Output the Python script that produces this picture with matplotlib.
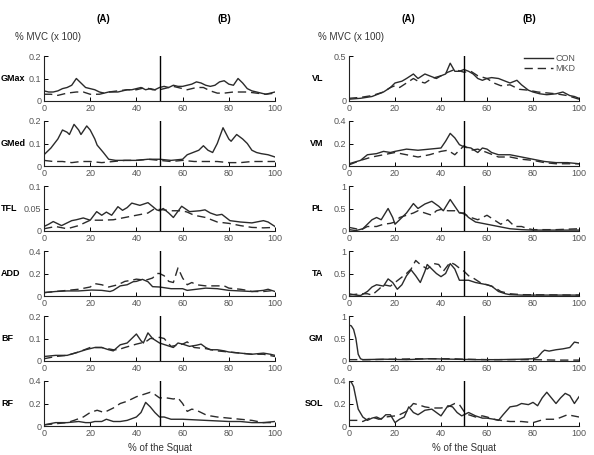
import numpy as np
import matplotlib
matplotlib.use('Agg')
import matplotlib.pyplot as plt

plt.rcParams['font.family'] = ['Liberation Sans', 'DejaVu Sans']

# (percent of squat, %MVC/100)
GMAX_CON = [(0, .045), (2, .04), (4, .04), (6, .045), (8, .055), (10, .06), (12, .07), (14, .1), (16, .08),
            (18, .06), (20, .055), (22, .05), (24, .04), (26, .035), (28, .04), (30, .04), (32, .04), (34, .045),
            (36, .05), (38, .05), (40, .055), (42, .06), (44, .05), (46, .055), (48, .05), (50, .06), (52, .065),
            (54, .06), (56, .07), (58, .065), (60, .065), (62, .07), (64, .075), (66, .085), (68, .08), (70, .07),
            (72, .065), (74, .07), (76, .085), (78, .09), (80, .075), (82, .07), (84, .1), (86, .08), (88, .055),
            (90, .045), (92, .04), (94, .035), (96, .03), (98, .035), (100, .04)]
GMAX_MKD = [(0, .03), (3, .03), (6, .025), (10, .035), (14, .04), (17, .04), (20, .03), (24, .03), (28, .04),
            (32, .045), (36, .05), (40, .05), (44, .06), (47, .05), (50, .05), (54, .06), (56, .065), (60, .055),
            (62, .05), (66, .06), (69, .06), (72, .045), (75, .035), (78, .035), (82, .04), (88, .04), (92, .035),
            (96, .03), (100, .035)]

GMED_CON = [(0, .05), (3, .08), (6, .12), (8, .16), (10, .15), (11, .14), (13, .185), (15, .16), (16, .14),
            (18.5, .178), (20, .16), (22, .12), (23, .093), (25.7, .06), (28, .03), (31, .025), (35, .025),
            (40, .025), (45, .03), (50, .03), (55, .025), (60, .03), (62, .05), (64.5, .06), (67, .07), (69, .09),
            (71, .07), (73, .06), (75, .1), (77.5, .17), (80, .12), (81, .11), (83.4, .14), (86, .12), (88, .1),
            (90, .07), (92, .06), (94, .055), (97, .05), (100, .04)]
GMED_MKD = [(0, .025), (4, .02), (8, .02), (12, .015), (16, .02), (20, .02), (25, .015), (30, .02), (35, .025),
            (40, .025), (45, .03), (50, .025), (55, .02), (60, .025), (65, .02), (70, .02), (75, .02), (80, .015),
            (85, .015), (90, .02), (95, .02), (100, .02)]

TFL_CON = [(0, .01), (2, .015), (4, .021), (7.6, .012), (12, .023), (14, .025), (17, .029), (20, .024),
           (22.8, .043), (25, .035), (27, .042), (29.3, .035), (32, .054), (34, .046), (36, .052), (38, .062),
           (41.5, .057), (45, .063), (48.8, .047), (50, .045), (51.6, .05), (54, .04), (56, .03), (59.6, .055),
           (63, .043), (67.5, .045), (69.7, .047), (72, .04), (74.8, .035), (77, .037), (80.5, .023), (85, .02),
           (90, .018), (95, .023), (97, .02), (100, .01)]
TFL_MKD = [(0, .005), (5, .01), (10, .005), (15, .012), (20, .024), (25, .024), (30, .025), (35, .03),
           (40, .035), (45, .04), (48, .05), (50, .048), (55, .045), (60, .045), (62, .042), (65, .035),
           (70, .03), (75, .02), (80, .017), (85, .012), (90, .008), (95, .007), (100, .008)]

ADD_CON = [(0, .03), (5, .04), (10, .045), (15, .045), (20.6, .053), (25, .05), (28.6, .04), (30, .05),
           (33, .09), (36, .1), (38.6, .127), (40, .13), (42.6, .148), (45, .127), (47, .083), (50, .08),
           (55, .065), (60, .065), (62, .05), (66, .06), (70, .07), (75, .065), (80, .05), (85, .045),
           (90, .04), (95, .05), (97, .06), (100, .04)]
ADD_MKD = [(0, .03), (5, .04), (10, .05), (15, .06), (20, .08), (22, .11), (25, .1), (28, .08), (32, .1),
           (35, .13), (38, .14), (40, .15), (44, .14), (47, .16), (49, .2), (50, .2), (52, .18), (54, .13),
           (56, .12), (58, .25), (60, .16), (62, .1), (64, .12), (66, .1), (70, .09), (75, .09), (78, .09),
           (80, .07), (85, .06), (88, .05), (90, .04), (95, .04), (100, .05)]

BF_CON = [(0, .02), (5, .025), (10, .025), (15, .04), (18, .05), (22, .06), (25, .06), (28, .05), (30, .045),
          (33, .072), (36, .08), (40, .12), (42, .09), (43, .08), (45, .125), (47, .1), (50, .08), (53, .07),
          (56, .06), (58, .08), (60, .075), (63, .065), (66, .07), (68, .075), (70, .06), (72, .05), (75, .05),
          (78, .045), (80, .04), (85, .035), (90, .03), (95, .035), (98, .03), (100, .025)]
BF_MKD = [(0, .01), (5, .02), (10, .025), (15, .04), (20, .06), (25, .06), (30, .05), (32, .05), (35, .06),
          (40, .075), (44, .085), (46, .1), (48, .1), (50, .105), (52, .1), (55, .065), (60, .075), (62, .085),
          (65, .06), (70, .055), (75, .045), (80, .04), (85, .035), (90, .03), (95, .03), (100, .02)]

RF_CON = [(0, .01), (5, .03), (10, .03), (15, .04), (18, .03), (20, .03), (22, .04), (25, .04), (27, .06),
          (30, .04), (33, .04), (36, .05), (40, .08), (42, .12), (44, .21), (46, .17), (48, .12), (50, .08),
          (52, .08), (55, .06), (60, .06), (65, .055), (70, .05), (75, .045), (80, .04), (85, .04), (90, .03),
          (95, .03), (100, .04)]
RF_MKD = [(0, .01), (5, .02), (10, .03), (13, .05), (17, .08), (20, .12), (23, .14), (26, .12), (30, .16),
          (33, .2), (36, .22), (40, .26), (43, .28), (46, .3), (48, .28), (50, .25), (53, .25), (56, .24),
          (58, .25), (60, .2), (62, .13), (64, .15), (66, .14), (70, .1), (72, .09), (75, .08), (80, .07),
          (85, .06), (90, .05), (95, .03), (100, .03)]

VL_CON = [(0, .02), (5, .03), (10, .05), (15, .1), (18, .15), (20, .2), (23, .22), (25, .25), (28, .3),
          (30, .25), (33, .3), (35, .28), (38, .25), (40, .28), (42, .3), (44, .42), (46, .33), (48, .33),
          (50, .35), (52, .33), (54, .3), (56, .25), (58, .23), (60, .25), (62, .26), (65, .25), (68, .22),
          (70, .2), (73, .23), (75, .18), (78, .12), (80, .1), (83, .08), (86, .07), (90, .08), (93, .1),
          (96, .06), (98, .05), (100, .03)]
VL_MKD = [(0, .03), (5, .04), (10, .06), (15, .1), (18, .15), (20, .17), (22, .15), (25, .2), (28, .25),
          (30, .22), (33, .2), (36, .25), (40, .28), (43, .32), (46, .35), (50, .32), (53, .33), (56, .28),
          (60, .25), (63, .2), (66, .17), (70, .18), (74, .13), (78, .12), (82, .1), (86, .09), (90, .08),
          (95, .06), (100, .02)]

VM_CON = [(0, .02), (5, .05), (8, .1), (12, .11), (15, .13), (18, .12), (20, .13), (25, .15), (30, .14),
          (35, .15), (40, .16), (42, .22), (44, .29), (46, .25), (48, .19), (50, .17), (53, .16), (56, .12),
          (58, .16), (60, .15), (62, .12), (65, .1), (70, .1), (75, .08), (80, .06), (85, .04), (90, .03),
          (95, .03), (100, .02)]
VM_MKD = [(0, .01), (5, .05), (10, .08), (15, .1), (20, .12), (25, .1), (30, .08), (35, .1), (40, .13),
          (43, .14), (46, .1), (50, .18), (53, .14), (56, .15), (60, .12), (65, .08), (70, .08), (75, .06),
          (80, .05), (85, .03), (90, .02), (95, .02), (100, .02)]

PL_CON = [(0, .03), (3, .01), (6, .05), (10, .25), (12, .3), (14, .25), (17, .5), (19, .3), (20, .15),
          (22, .25), (25, .4), (28, .61), (30, .5), (33, .6), (36, .66), (39, .55), (41, .45), (44, .7),
          (46, .55), (48, .4), (50, .4), (52, .3), (55, .2), (60, .15), (65, .1), (70, .05), (75, .03),
          (80, .02), (90, .02), (100, .02)]
PL_MKD = [(0, .08), (3, .05), (5, .02), (8, .1), (10, .1), (12, .1), (15, .15), (18, .17), (20, .2),
          (22, .3), (25, .35), (28, .4), (30, .45), (33, .4), (36, .35), (38, .45), (40, .48), (43, .45),
          (46, .45), (50, .38), (53, .3), (56, .25), (60, .35), (63, .25), (66, .15), (69, .25), (72, .1),
          (75, .1), (78, .05), (80, .03), (90, .03), (100, .05)]

TA_CON = [(0, .05), (3, .02), (5, .01), (8, .1), (10, .2), (12, .25), (15, .22), (17, .38), (19, .3),
          (21, .15), (23, .25), (25, .45), (27, .58), (29, .45), (31, .3), (33, .55), (34, .7), (36, .6),
          (38, .5), (40, .43), (42, .5), (44, .72), (46, .6), (48, .35), (50, .35), (52, .35), (55, .3),
          (58, .27), (60, .25), (62, .22), (65, .1), (68, .05), (70, .03), (75, .02), (80, .02), (90, .02),
          (100, .02)]
TA_MKD = [(0, .02), (5, .05), (8, .05), (10, .02), (13, .15), (15, .25), (18, .22), (20, .3), (22, .38),
          (25, .5), (27, .6), (29, .79), (31, .7), (34, .6), (37, .72), (39, .7), (41, .55), (44, .75),
          (46, .7), (48, .62), (50, .55), (52, .45), (54, .4), (57, .3), (60, .25), (63, .2), (66, .1),
          (70, .05), (75, .03), (100, .02)]

GM_CON = [(0, .8), (1, .78), (2, .7), (3, .5), (4, .15), (5, .05), (6, .03), (15, .04), (25, .03),
          (35, .05), (45, .04), (55, .03), (65, .03), (75, .04), (80, .05), (82, .08), (84, .2), (85, .24),
          (87, .22), (90, .25), (93, .27), (96, .3), (98, .42), (100, .4)]
GM_MKD = [(0, .03), (10, .03), (20, .04), (30, .05), (40, .05), (45, .05), (50, .04), (60, .03),
          (70, .03), (80, .03), (90, .02), (100, .02)]

SOL_CON = [(0, .4), (1, .39), (2, .35), (3, .25), (4, .15), (6, .08), (8, .05), (10, .07), (12, .08),
           (14, .06), (16, .1), (18, .1), (20, .03), (22, .06), (24, .08), (26, .17), (28, .12), (30, .1),
           (33, .14), (36, .15), (38, .12), (40, .09), (43, .18), (45, .17), (47, .12), (49, .09), (50, .1),
           (52, .12), (55, .09), (58, .07), (60, .07), (63, .06), (65, .05), (67, .1), (70, .17), (73, .18),
           (75, .2), (78, .19), (80, .21), (82, .18), (84, .25), (86, .3), (88, .25), (90, .2), (92, .25),
           (94, .29), (96, .27), (98, .2), (100, .26)]
SOL_MKD = [(0, .05), (2, .05), (4, .05), (6, .04), (8, .06), (10, .08), (13, .06), (16, .08), (20, .09),
           (22, .1), (25, .13), (28, .2), (30, .19), (33, .17), (36, .16), (40, .16), (43, .17), (46, .2),
           (48, .19), (50, .13), (52, .1), (55, .08), (58, .09), (60, .08), (63, .06), (66, .05), (70, .04),
           (75, .04), (80, .03), (85, .06), (90, .06), (95, .1), (100, .08)]

LEFT = [('GMax', GMAX_CON, GMAX_MKD, 0.2, ['0', '0.1', '0.2']),
        ('GMed', GMED_CON, GMED_MKD, 0.2, ['0', '0.1', '0.2']),
        ('TFL', TFL_CON, TFL_MKD, 0.1, ['0', '0.05', '0.1']),
        ('ADD', ADD_CON, ADD_MKD, 0.4, ['0', '0.2', '0.4']),
        ('BF', BF_CON, BF_MKD, 0.2, ['0', '0.1', '0.2']),
        ('RF', RF_CON, RF_MKD, 0.4, ['0', '0.2', '0.4'])]
RIGHT = [('VL', VL_CON, VL_MKD, 0.5, ['0', '0.5']),
         ('VM', VM_CON, VM_MKD, 0.4, ['0', '0.2', '0.4']),
         ('PL', PL_CON, PL_MKD, 1.0, ['0', '0.5', '1']),
         ('TA', TA_CON, TA_MKD, 1.0, ['0', '0.5', '1']),
         ('GM', GM_CON, GM_MKD, 1.0, ['0', '0.5', '1']),
         ('SOL', SOL_CON, SOL_MKD, 0.4, ['0', '0.2', '0.4'])]

W, H = 594., 455.
ROW_TOPS = [56, 121, 186, 251, 316, 381]
AX_H = 45
GREY = '#555555'
LINE = '#2b2b2b'

fig = plt.figure(figsize=(W / 100, H / 100), dpi=100)


def panel(x0, width, top, name, con, mkd, ymax, ylabs, lab_x, lab_ha):
    ax = fig.add_axes([x0 / W, 1 - (top + AX_H) / H, width / W, AX_H / H])
    cx, cy = zip(*con)
    mx, my = zip(*mkd)
    ax.plot(cx, cy, '-', color=LINE, lw=1.0, label='CON')
    ax.plot(mx, my, '--', color=LINE, lw=1.0, dashes=(6, 3.5), label='MKD')
    ax.plot([50, 50], [0, ymax], '-', color='k', lw=1.0)
    ax.set_xlim(0, 100)
    ax.set_ylim(0, ymax)
    ax.set_xticks(range(0, 101, 20))
    yt = np.linspace(0, ymax, len(ylabs))
    ax.set_yticks(yt)
    ax.set_yticklabels(ylabs)
    for s in ['top', 'right']:
        ax.spines[s].set_visible(False)
    for s in ['left', 'bottom']:
        ax.spines[s].set_linewidth(0.8)
        ax.spines[s].set_color('#222222')
    ax.tick_params(direction='in', length=3, width=0.7, labelsize=6.5,
                   labelcolor=GREY, pad=2)
    fig.text(lab_x / W, 1 - (top + AX_H / 2) / H, name, ha=lab_ha, va='center',
             fontsize=6.5, fontweight='bold')
    return ax


for i, (name, con, mkd, ymax, ylabs) in enumerate(LEFT):
    panel(44, 231, ROW_TOPS[i], name, con, mkd, ymax, ylabs, 1, 'left')
axes_r = []
for i, (name, con, mkd, ymax, ylabs) in enumerate(RIGHT):
    axes_r.append(panel(349, 230, ROW_TOPS[i], name, con, mkd, ymax, ylabs, 323, 'right'))

leg = axes_r[0].legend(loc='upper right', bbox_to_anchor=(1.02, 1.22), frameon=False,
                       fontsize=6.5, handlelength=3.2, handletextpad=0.3, labelspacing=0.1)
for t in leg.get_texts():
    t.set_color(GREY)

for xa, xb in [(103, 224), (408, 529)]:
    fig.text(xa / W, 1 - 19 / H, '(A)', ha='center', va='center', fontsize=7, fontweight='bold')
    fig.text(xb / W, 1 - 19 / H, '(B)', ha='center', va='center', fontsize=7, fontweight='bold')
fig.text(15 / W, 1 - 37 / H, '% MVC (x 100)', ha='left', va='center', fontsize=7, color='#333333')
fig.text(318 / W, 1 - 37 / H, '% MVC (x 100)', ha='left', va='center', fontsize=7, color='#333333')
fig.text(160 / W, 1 - 448 / H, '% of the Squat', ha='center', va='center', fontsize=7, color='#333333')
fig.text(464 / W, 1 - 448 / H, '% of the Squat', ha='center', va='center', fontsize=7, color='#333333')

fig.savefig('out.png', dpi=100)
